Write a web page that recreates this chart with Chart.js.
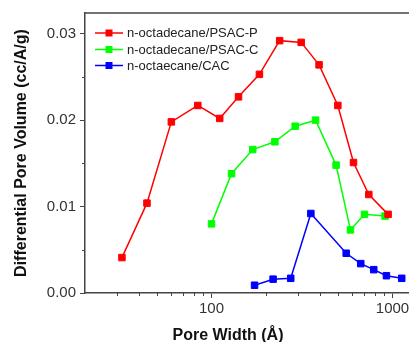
<!DOCTYPE html>
<html lang="en">
<head>
  <meta charset="UTF-8" />
  <title>Differential Pore Volume</title>
  <script src="https://cdn.jsdelivr.net/npm/chart.js"></script>
  <style>
    html, body { margin: 0; padding: 0; background: #fff; overflow: hidden; }
    #wrap { width: 409px; height: 342px; }
  </style>
</head>
<body>
<div id="wrap"><canvas id="poreChart" width="409" height="342"></canvas></div>
<script>
  // pore width (Å) and differential pore volume (cc/A/g)
  const widthPsacP = [32, 44, 60, 84, 111, 141, 184, 238, 313, 393, 499, 609, 740, 946];
  const volumePsacP = [0.0041, 0.0104, 0.0198, 0.0217, 0.0202, 0.0227, 0.0253, 0.0292, 0.0290, 0.0264, 0.0217, 0.0151, 0.0114, 0.0091];

  const widthPsacC = [100, 129, 169, 224, 290, 376, 488, 586, 700, 910];
  const volumePsacC = [0.0080, 0.0138, 0.0166, 0.0175, 0.0193, 0.0200, 0.0148, 0.0073, 0.0091, 0.0089];

  const widthCac = [173, 219, 274, 354, 555, 668, 788, 926, 1125];
  const volumeCac = [0.0009, 0.0016, 0.0017, 0.0092, 0.0046, 0.0034, 0.0027, 0.0020, 0.0017];

  const seriesNames = ['n-octadecane/PSAC-P', 'n-octadecane/PSAC-C', 'n-octaecane/CAC'];
  const seriesColors = ['#ff0000', '#00ff00', '#0000ff'];

  const xMajorTicks = [100, 1000];
  const xMinorTicks = [30, 40, 50, 60, 70, 80, 90, 200, 300, 400, 500, 600, 700, 800, 900];
  const yMajorTicks = [0, 0.01, 0.02, 0.03];
  const yMinorTicks = [0.005, 0.015, 0.025];

  const xTitle = 'Pore Width (Å)';
  const yTitle = 'Differential Pore Volume (cc/A/g)';

  const axisColor = '#444';

  function toPoints(xs, ys) {
    return xs.map((x, i) => ({ x: x, y: ys[i] }));
  }

  function makeSet(i, xs, ys) {
    return {
      label: seriesNames[i],
      data: toPoints(xs, ys),
      borderColor: seriesColors[i],
      backgroundColor: seriesColors[i],
      borderWidth: 1.5,
      pointStyle: 'rect',
      pointRadius: 4.6,
      pointBorderWidth: 1,
      tension: 0,
      clip: 8
    };
  }

  // minor ticks, top frame line, x title and the legend inside the plot
  const decorations = {
    id: 'decorations',
    afterDraw(chart) {
      const ctx = chart.ctx;
      const area = chart.chartArea;
      const xs = chart.scales.x;
      const ys = chart.scales.y;
      ctx.save();
      ctx.strokeStyle = axisColor;
      ctx.lineWidth = 1;
      ctx.beginPath();
      xMinorTicks.forEach(v => {
        const px = Math.round(xs.getPixelForValue(v)) + 0.5;
        ctx.moveTo(px, area.bottom);
        ctx.lineTo(px, area.bottom + 3);
      });
      yMinorTicks.forEach(v => {
        const py = Math.round(ys.getPixelForValue(v)) + 0.5;
        ctx.moveTo(area.left, py);
        ctx.lineTo(area.left - 3, py);
      });
      ctx.stroke();

      ctx.lineWidth = 1.5;
      ctx.beginPath();
      ctx.moveTo(area.left, area.top);
      ctx.lineTo(area.right, area.top);
      ctx.stroke();

      // x axis title (sits left of the plot centre in the original)
      ctx.font = 'bold 16px "Liberation Sans", Arial, sans-serif';
      ctx.fillStyle = '#111';
      ctx.textAlign = 'center';
      ctx.textBaseline = 'alphabetic';
      ctx.fillText(xTitle, area.left + 143, 340);

      // legend
      ctx.font = '13px "Liberation Sans", Arial, sans-serif';
      ctx.textBaseline = 'middle';
      ctx.textAlign = 'left';
      const rowY = [20, 36.5, 52.5];
      seriesNames.forEach((name, i) => {
        const y = area.top + rowY[i];
        const x0 = area.left + 10;
        ctx.strokeStyle = seriesColors[i];
        ctx.lineWidth = 1.5;
        ctx.beginPath();
        ctx.moveTo(x0, y);
        ctx.lineTo(x0 + 28, y);
        ctx.stroke();
        ctx.fillStyle = seriesColors[i];
        ctx.fillRect(x0 + 10.5, y - 3.5, 7, 7);
        ctx.fillStyle = '#222';
        ctx.fillText(name, x0 + 32, y + 0.5);
      });
      ctx.restore();
    }
  };

  Chart.defaults.font.family = '"Liberation Sans", Arial, sans-serif';
  Chart.defaults.color = '#333';

  const ctx = document.getElementById('poreChart').getContext('2d');
  new Chart(ctx, {
    type: 'line',
    data: {
      datasets: [
        makeSet(0, widthPsacP, volumePsacP),
        makeSet(1, widthPsacC, volumePsacC),
        makeSet(2, widthCac, volumeCac)
      ]
    },
    options: {
      responsive: false,
      animation: false,
      layout: { autoPadding: false, padding: { top: 11, right: 0, left: 0, bottom: 0 } },
      plugins: {
        legend: { display: false },
        tooltip: { enabled: false }
      },
      scales: {
        x: {
          type: 'logarithmic',
          min: 20,
          max: 1234,
          afterBuildTicks: scale => { scale.ticks = xMajorTicks.map(v => ({ value: v })); },
          afterFit: scale => {
            scale.height = 49;
            scale.paddingRight = 0;
            scale.paddingLeft = 0;
          },
          grid: { drawOnChartArea: false, drawTicks: true, tickLength: 5, tickColor: axisColor },
          border: { color: axisColor, width: 1.5 },
          ticks: {
            autoSkip: false,
            maxRotation: 0,
            padding: 2,
            font: { size: 15 },
            callback: v => String(v)
          },
          title: { display: false }
        },
        y: {
          min: 0,
          max: 0.0324,
          afterBuildTicks: scale => { scale.ticks = yMajorTicks.map(v => ({ value: v })); },
          afterFit: scale => { scale.width = 85; },
          grid: { drawOnChartArea: false, drawTicks: true, tickLength: 5, tickColor: axisColor },
          border: { color: axisColor, width: 1.5 },
          ticks: {
            padding: 4,
            font: { size: 15 },
            callback: v => Number(v).toFixed(2)
          },
          title: {
            display: true,
            text: yTitle,
            color: '#111',
            font: { size: 16, weight: 'bold' },
            padding: { top: 12, bottom: 0 }
          }
        }
      }
    },
    plugins: [decorations]
  });
</script>
</body>
</html>
